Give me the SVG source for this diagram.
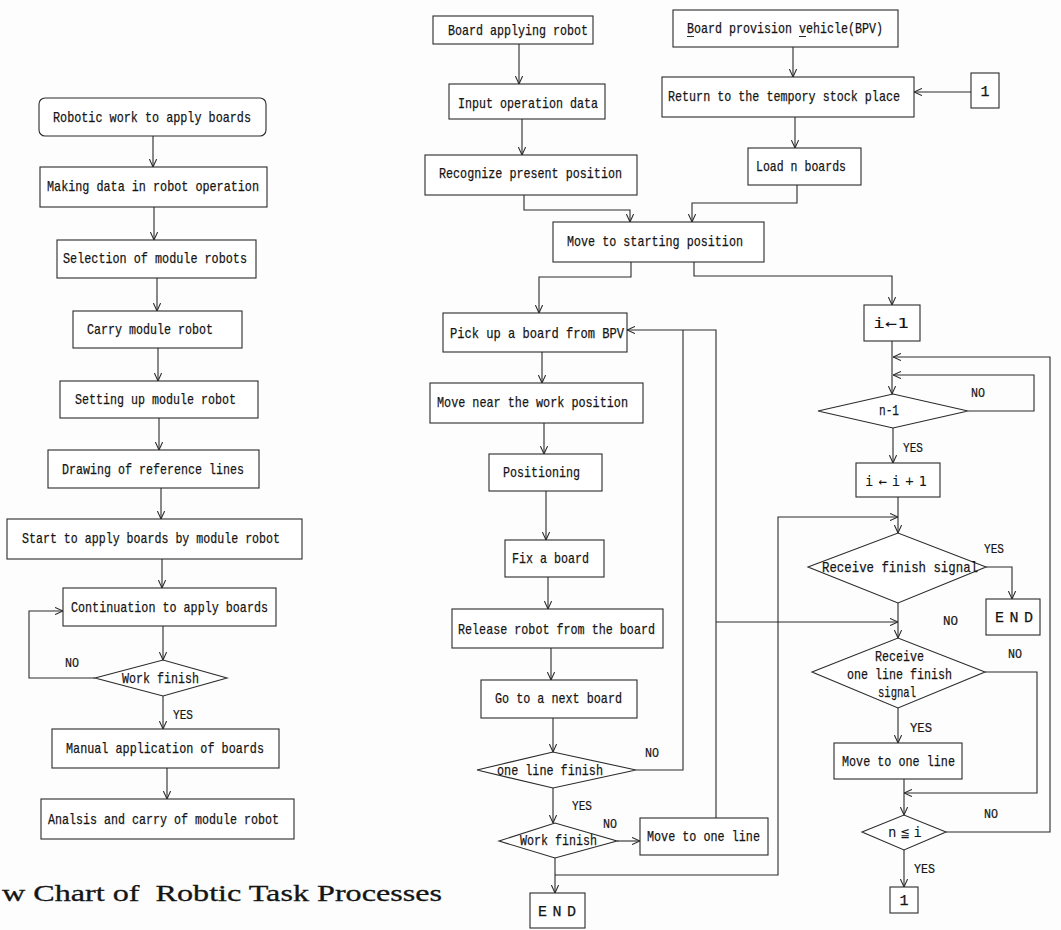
<svg xmlns="http://www.w3.org/2000/svg" width="1061" height="930" viewBox="0 0 1061 930">
<defs>
<style>
.b{fill:#fff;stroke:#2a2a2a;stroke-width:1.1}
.t{font-family:"Liberation Mono","DejaVu Sans Mono","DejaVu Sans","Noto Sans CJK JP",monospace;font-size:15px;fill:#151515;stroke:#151515;stroke-width:0.25}
.m{font-family:"DejaVu Sans Mono","DejaVu Sans","Noto Sans CJK JP",monospace;font-size:14px;fill:#151515}
.l{font-family:"Liberation Mono","DejaVu Sans Mono",monospace;font-size:13.5px;fill:#151515;stroke:#151515;stroke-width:0.2}
.c{fill:none;stroke:#2a2a2a;stroke-width:1.1}
.a{marker-end:url(#ah)}
.ttl{font-family:"Liberation Serif","DejaVu Serif",serif;font-size:23px;fill:#151515;stroke:#151515;stroke-width:0.3}
</style>
<marker id="ah" viewBox="0 0 10 10" refX="10" refY="5" markerWidth="8" markerHeight="8" markerUnits="userSpaceOnUse" orient="auto">
<path d="M0,0.5 L10,5 L0,9.5" fill="none" stroke="#2a2a2a" stroke-width="1.3"/>
</marker>
</defs>
<rect width="1061" height="930" fill="#fdfdfd"/>

<g id="connectors">
<!-- left column -->
<path class="c a" d="M153,136 V167"/>
<path class="c a" d="M154,207 V240"/>
<path class="c a" d="M157,278 V311"/>
<path class="c a" d="M158,348 V381"/>
<path class="c a" d="M159,418 V450"/>
<path class="c a" d="M161,488 V519"/>
<path class="c a" d="M162,559 V588"/>
<path class="c a" d="M163,626 V660"/>
<path class="c a" d="M95,678 H29 V611 H63"/>
<path class="c a" d="M163,696 V729"/>
<path class="c a" d="M167,768 V799"/>
<!-- middle top -->
<path class="c a" d="M519,44 V84"/>
<path class="c a" d="M522,119 V155"/>
<path class="c a" d="M524,195 V210 H630 V222"/>
<path class="c a" d="M793,47 V77"/>
<path class="c a" d="M971,92 H914"/>
<path class="c a" d="M795,117 V148"/>
<path class="c a" d="M797,185 V203 H692 V222"/>
<path class="c a" d="M631,262 V277 H539 V313"/>
<path class="c a" d="M694,262 V276 H892 V305"/>
<!-- middle column -->
<path class="c a" d="M542,352 V383"/>
<path class="c a" d="M544,423 V454"/>
<path class="c a" d="M546,491 V540"/>
<path class="c a" d="M548,577 V609"/>
<path class="c a" d="M551,648 V680"/>
<path class="c a" d="M553,718 V752"/>
<path class="c" d="M636,770 H683 V330"/>
<path class="c a" d="M716,818 V330 H627"/>
<path class="c a" d="M553,788 V823"/>
<path class="c a" d="M617,841 H640"/>
<path class="c a" d="M555,858 V893"/>
<path class="c a" d="M555,875 H778 V517 H898"/>
<path class="c a" d="M716,622 H898"/>
<!-- right column -->
<path class="c a" d="M892,341 V394"/>
<path class="c a" d="M968,411 H1034 V375 H893"/>
<path class="c a" d="M946,832 H1050 V357 H893"/>
<path class="c a" d="M893,428 V463"/>
<path class="c a" d="M898,497 V533"/>
<path class="c a" d="M986,567 H1012 V599"/>
<path class="c a" d="M898,603 V638"/>
<path class="c a" d="M985,672 H1037 V793 H904"/>
<path class="c a" d="M898,708 V743"/>
<path class="c a" d="M904,779 V815"/>
<path class="c a" d="M904,850 V887"/>
<!-- branch labels -->
<text class="l" x="65" y="667" textLength="14" lengthAdjust="spacingAndGlyphs">NO</text>
<text class="l" x="173" y="719" textLength="20" lengthAdjust="spacingAndGlyphs">YES</text>
<text class="l" x="645" y="757" textLength="14" lengthAdjust="spacingAndGlyphs">NO</text>
<text class="l" x="572" y="810" textLength="20" lengthAdjust="spacingAndGlyphs">YES</text>
<text class="l" x="603" y="828" textLength="14" lengthAdjust="spacingAndGlyphs">NO</text>
<text class="l" x="971" y="397" textLength="14" lengthAdjust="spacingAndGlyphs">NO</text>
<text class="l" x="903" y="452" textLength="20" lengthAdjust="spacingAndGlyphs">YES</text>
<text class="l" x="984" y="553" textLength="20" lengthAdjust="spacingAndGlyphs">YES</text>
<text class="l" x="943" y="625" textLength="15" lengthAdjust="spacingAndGlyphs">NO</text>
<text class="l" x="1008" y="658" textLength="14" lengthAdjust="spacingAndGlyphs">NO</text>
<text class="l" x="910" y="732" textLength="22" lengthAdjust="spacingAndGlyphs">YES</text>
<text class="l" x="984" y="818" textLength="14" lengthAdjust="spacingAndGlyphs">NO</text>
<text class="l" x="914" y="873" textLength="21" lengthAdjust="spacingAndGlyphs">YES</text>
</g>

<!-- left column nodes -->
<g id="n_robotic_work"><rect class="b" x="39" y="98" width="227" height="38" rx="6"/><text class="t" x="53" y="122" textLength="198" lengthAdjust="spacingAndGlyphs">Robotic work to apply boards</text></g>
<g id="n_making_data"><rect class="b" x="40" y="167" width="227" height="40"/><text class="t" x="47" y="191" textLength="212" lengthAdjust="spacingAndGlyphs">Making data in robot operation</text></g>
<g id="n_selection"><rect class="b" x="57" y="240" width="199" height="38"/><text class="t" x="63" y="263" textLength="184" lengthAdjust="spacingAndGlyphs">Selection of module robots</text></g>
<g id="n_carry"><rect class="b" x="73" y="311" width="169" height="37"/><text class="t" x="87" y="334" textLength="126" lengthAdjust="spacingAndGlyphs">Carry module robot</text></g>
<g id="n_setting"><rect class="b" x="60" y="381" width="198" height="37"/><text class="t" x="75" y="404" textLength="161" lengthAdjust="spacingAndGlyphs">Setting up module robot</text></g>
<g id="n_drawing"><rect class="b" x="48" y="450" width="211" height="38"/><text class="t" x="62" y="474" textLength="182" lengthAdjust="spacingAndGlyphs">Drawing of reference lines</text></g>
<g id="n_start"><rect class="b" x="7" y="519" width="295" height="40"/><text class="t" x="22" y="543" textLength="258" lengthAdjust="spacingAndGlyphs">Start to apply boards by module robot</text></g>
<g id="n_continuation"><rect class="b" x="63" y="588" width="213" height="38"/><text class="t" x="71" y="612" textLength="197" lengthAdjust="spacingAndGlyphs">Continuation to apply boards</text></g>
<g id="n_work_finish_l"><polygon class="b" points="95,678 163,660 227,678 163,696"/><text class="t" x="122" y="683" textLength="77" lengthAdjust="spacingAndGlyphs">Work finish</text></g>
<g id="n_manual"><rect class="b" x="52" y="729" width="227" height="39"/><text class="t" x="66" y="753" textLength="198" lengthAdjust="spacingAndGlyphs">Manual application of boards</text></g>
<g id="n_analsis"><rect class="b" x="41" y="799" width="253" height="40"/><text class="t" x="48" y="824" textLength="231" lengthAdjust="spacingAndGlyphs" style="font-size:14px">Analsis and carry of module robot</text></g>

<!-- middle column nodes -->
<g id="n_board_applying"><rect class="b" x="433" y="16" width="160" height="28"/><text class="t" x="448" y="35" textLength="140" lengthAdjust="spacingAndGlyphs">Board applying robot</text></g>
<g id="n_input"><rect class="b" x="449" y="84" width="156" height="35"/><text class="t" x="458" y="108" textLength="140" lengthAdjust="spacingAndGlyphs">Input operation data</text></g>
<g id="n_recognize"><rect class="b" x="425" y="155" width="212" height="40"/><text class="t" x="439" y="178" textLength="183" lengthAdjust="spacingAndGlyphs">Recognize present position</text></g>
<g id="n_bpv"><rect class="b" x="673" y="10" width="225" height="37"/><text class="t" x="687" y="33" textLength="196" lengthAdjust="spacingAndGlyphs">Board provision vehicle(BPV)</text><path class="c" d="M687,36.5 H694 M799,36.5 H806"/></g>
<g id="n_return"><rect class="b" x="662" y="77" width="252" height="40"/><text class="t" x="668" y="101" textLength="232" lengthAdjust="spacingAndGlyphs">Return to the tempory stock place</text></g>
<g id="n_one_top"><rect class="b" x="971" y="73" width="28" height="35"/><text class="t" x="985" y="96" text-anchor="middle">1</text></g>
<g id="n_load"><rect class="b" x="748" y="148" width="113" height="37"/><text class="t" x="756" y="171" textLength="90" lengthAdjust="spacingAndGlyphs">Load n boards</text></g>
<g id="n_move_start"><rect class="b" x="553" y="222" width="211" height="40"/><text class="t" x="567" y="246" textLength="176" lengthAdjust="spacingAndGlyphs">Move to starting position</text></g>
<g id="n_i1"><rect class="b" x="864" y="305" width="56" height="36"/><text class="m" x="873" y="328" textLength="36" lengthAdjust="spacingAndGlyphs">i←1</text></g>
<g id="n_pickup"><rect class="b" x="443" y="313" width="184" height="39"/><text class="t" x="450" y="338" textLength="174" lengthAdjust="spacingAndGlyphs">Pick up a board from BPV</text></g>
<g id="n_move_near"><rect class="b" x="430" y="383" width="213" height="40"/><text class="t" x="437" y="407" textLength="191" lengthAdjust="spacingAndGlyphs">Move near the work position</text></g>
<g id="n_positioning"><rect class="b" x="489" y="454" width="113" height="37"/><text class="t" x="503" y="477" textLength="77" lengthAdjust="spacingAndGlyphs">Positioning</text></g>
<g id="n_fix"><rect class="b" x="505" y="540" width="99" height="37"/><text class="t" x="512" y="563" textLength="77" lengthAdjust="spacingAndGlyphs">Fix a board</text></g>
<g id="n_release"><rect class="b" x="452" y="609" width="211" height="39"/><text class="t" x="458" y="634" textLength="197" lengthAdjust="spacingAndGlyphs">Release robot from the board</text></g>
<g id="n_goto"><rect class="b" x="481" y="680" width="156" height="38"/><text class="t" x="495" y="703" textLength="127" lengthAdjust="spacingAndGlyphs">Go to a next board</text></g>
<g id="n_one_line_finish"><polygon class="b" points="477,770 553,752 636,770 553,788"/><text class="t" x="497" y="775" textLength="106" lengthAdjust="spacingAndGlyphs">one line finish</text></g>
<g id="n_work_finish_m"><polygon class="b" points="499,841 555,823 617,841 555,858"/><text class="t" x="520" y="845" textLength="77" lengthAdjust="spacingAndGlyphs">Work finish</text></g>
<g id="n_move_line_m"><rect class="b" x="640" y="818" width="128" height="37"/><text class="t" x="647" y="841" textLength="113" lengthAdjust="spacingAndGlyphs">Move to one line</text></g>
<g id="n_end_m"><rect class="b" x="530" y="893" width="55" height="35"/><text class="t" x="538" y="916" textLength="38" lengthAdjust="spacing">END</text></g>

<!-- right column nodes -->
<g id="n_n1"><polygon class="b" points="818,411 893,394 968,411 893,428"/><text class="t" x="879" y="415" textLength="20" lengthAdjust="spacingAndGlyphs">n-1</text></g>
<g id="n_inc"><rect class="b" x="856" y="463" width="84" height="34"/><text class="m" x="865" y="486" textLength="62" lengthAdjust="spacing">i←i+1</text></g>
<g id="n_recv_finish"><polygon class="b" points="808,567 898,533 986,567 898,603"/><text class="t" x="822" y="572" textLength="156" lengthAdjust="spacingAndGlyphs">Receive finish signal</text></g>
<g id="n_end_r"><rect class="b" x="986" y="599" width="54" height="36"/><text class="t" x="995" y="622" textLength="38" lengthAdjust="spacing">END</text></g>
<g id="n_recv_line"><polygon class="b" points="812,672 898,638 985,672 898,708"/><text class="t" x="875" y="661" textLength="49" lengthAdjust="spacingAndGlyphs">Receive</text><text class="t" x="847" y="679" textLength="105" lengthAdjust="spacingAndGlyphs">one line finish</text><text class="t" x="878" y="697" textLength="38" lengthAdjust="spacingAndGlyphs">signal</text></g>
<g id="n_move_line_r"><rect class="b" x="834" y="743" width="128" height="36"/><text class="t" x="842" y="766" textLength="113" lengthAdjust="spacingAndGlyphs">Move to one line</text></g>
<g id="n_nle"><polygon class="b" points="862,832 904,815 946,832 904,850"/><text class="m" x="888" y="837" textLength="34" lengthAdjust="spacing">n≦i</text></g>
<g id="n_one_bottom"><rect class="b" x="890" y="887" width="28" height="26"/><text class="t" x="904" y="905" text-anchor="middle">1</text></g>

<text class="ttl" x="2" y="901" textLength="440" lengthAdjust="spacingAndGlyphs" xml:space="preserve">w Chart of  Robtic Task Processes</text>
</svg>
